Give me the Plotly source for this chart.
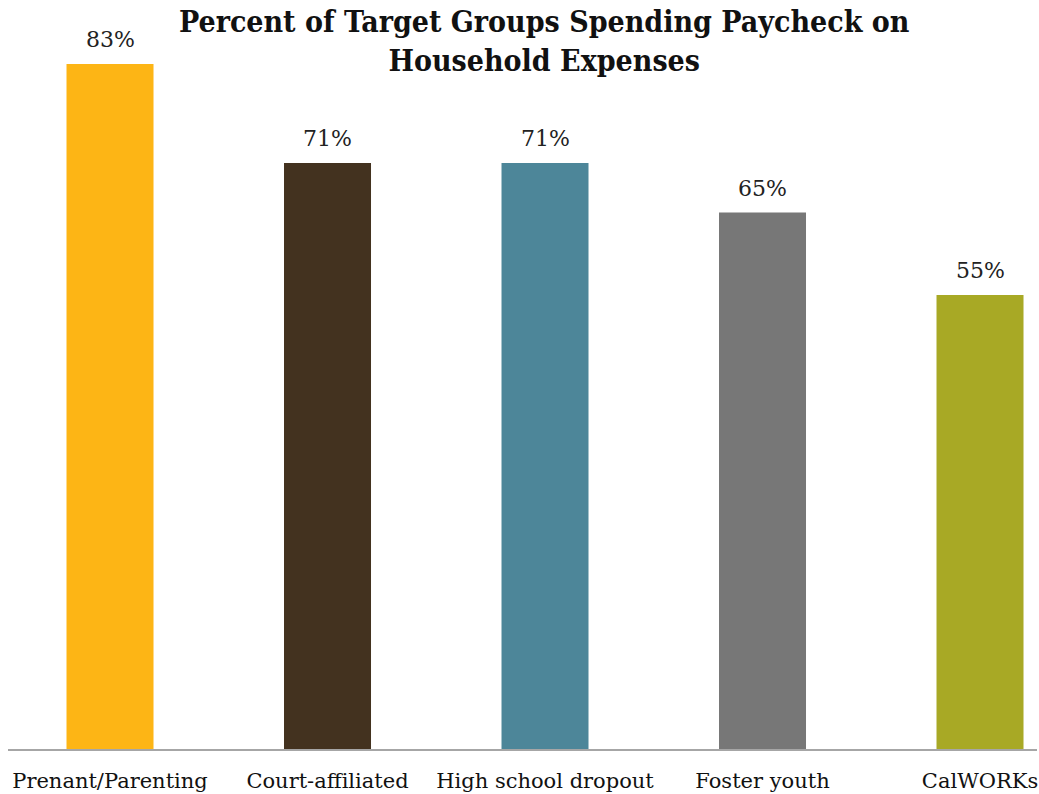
import plotly.graph_objects as go

categories = ["Prenant/Parenting", "Court-affiliated", "High school dropout", "Foster youth", "CalWORKs"]
values = [83, 71, 71, 65, 55]
labels = ["83%", "71%", "71%", "65%", "55%"]
colors = ["#FDB515", "#43321F", "#4D8699", "#777777", "#A8A925"]

serif = "DejaVu Serif, Liberation Serif, serif"

fig = go.Figure(
    go.Bar(
        x=list(range(len(categories))),
        y=values,
        marker=dict(color=colors, line=dict(width=0)),
        width=0.4,
        hoverinfo="skip",
    )
)

for i, (v, t) in enumerate(zip(values, labels)):
    fig.add_annotation(
        x=i, y=v, text=t, showarrow=False, yanchor="bottom", yshift=10,
        font=dict(family=serif, size=22, color="#222222"),
    )

fig.add_annotation(
    xref="paper", yref="paper", x=0.521, y=1.0, yanchor="top", yshift=-2,
    text="<b>Percent of Target Groups Spending Paycheck on<br>Household Expenses</b>",
    showarrow=False, align="center",
    font=dict(family="DejaVu Serif Condensed, " + serif, size=30, color="#111111"),
)

fig.update_layout(
    width=1039, height=794,
    margin=dict(l=8, r=2, t=0, b=45),
    paper_bgcolor="white", plot_bgcolor="white",
    showlegend=False,
    xaxis=dict(
        tickmode="array", tickvals=list(range(len(categories))), ticktext=categories,
        range=[-0.469, 4.262], showline=True, linecolor="#A6A6A6", linewidth=2,
        showgrid=False, zeroline=False, ticks="",
        tickfont=dict(family=serif, size=21, color="#111111"),
        ticklabelstandoff=12,
    ),
    yaxis=dict(range=[0, 90.76], visible=False, showgrid=False, zeroline=False),
)

fig.write_html("out.html")
